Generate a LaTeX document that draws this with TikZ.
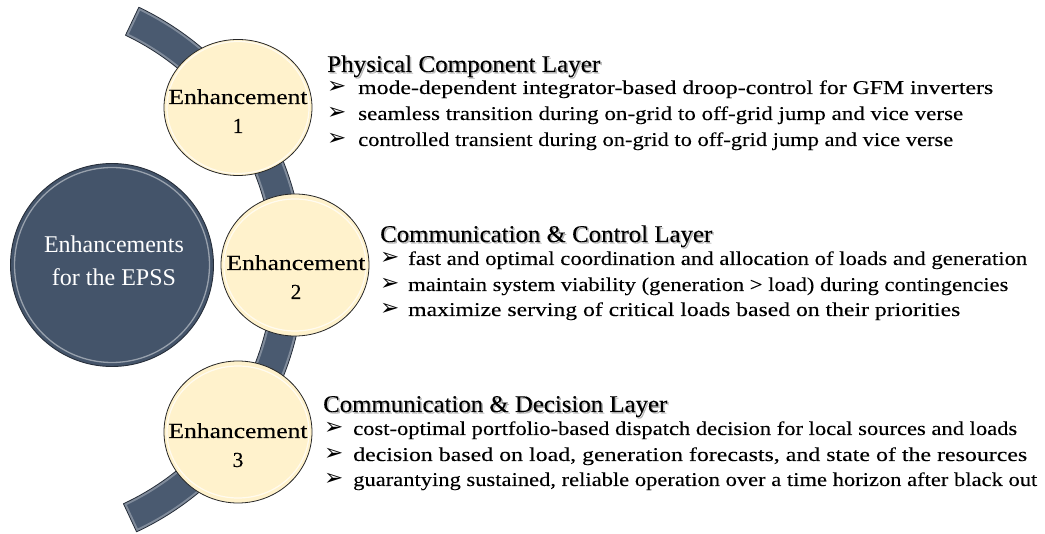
\documentclass[tikz,border=0pt]{standalone}
\usepackage{fontspec}
\setmainfont{Liberation Serif}
\newfontfamily\heavyserif[FakeBold=0.12]{Liberation Serif}
\newfontfamily\arrowfont{DejaVu Sans}
\usetikzlibrary{shapes.geometric,calc}
\definecolor{slate}{RGB}{68,84,106}
\definecolor{slatearc}{RGB}{74,90,112}
\definecolor{cream}{RGB}{255,242,204}
\definecolor{rimdark}{RGB}{38,46,58}
\newcommand\fitto[2]{\resizebox{#1pt}{\height}{#2}}
\tikzset{
  enh/.style={ellipse, draw=black!85, line width=0.8pt, fill=cream, inner sep=0pt},
  hub/.style={ellipse, draw=rimdark, line width=0.9pt, fill=slate, inner sep=0pt},
  ctext/.style={anchor=base, inner sep=0pt, font=\heavyserif\fontsize{21.5}{25}\selectfont},
  htext/.style={anchor=base, inner sep=0pt, text=white, font=\fontsize{24}{28}\selectfont},
  ttl/.style={anchor=base west, inner sep=0pt, font=\heavyserif\fontsize{24}{28}\selectfont},
  ttlshadow/.style={anchor=base west, inner sep=0pt, font=\heavyserif\fontsize{24}{28}\selectfont, text=black, opacity=0.25},
  bul/.style={anchor=base west, inner sep=0pt, font=\heavyserif\fontsize{19.5}{23}\selectfont},
  arrowbul/.style={anchor=base west, inner sep=0pt, font=\arrowfont\fontsize{23}{24}\selectfont},
}
\begin{document}
\begin{tikzpicture}[x=1pt,y=1pt]
\useasboundingbox (0,0) rectangle (1045,-534);
\fill[white] (0,0) rectangle (1045,-534);

% ---- arc band ----
\coordinate (C) at (14,-269);
\def\arcband{($(C)+(64.5:290pt)$) arc[start angle=64.5, end angle=-65, radius=290pt] -- ($(C)+(-65:259pt)$) arc[start angle=-65, end angle=64.5, radius=259pt] -- cycle}
\fill[slatearc] \arcband;
\begin{scope}
  \clip \arcband;
  \draw[white, opacity=0.3, line width=5pt] \arcband;
\end{scope}
\draw[rimdark, line width=0.8pt, line join=round] \arcband;

% ---- hub ----
\node[hub, minimum width=203pt, minimum height=203pt] (hub) at (112,-265) {};
\draw[white, opacity=0.45, line width=1.3pt] (hub.center) ellipse [x radius=97.5pt, y radius=97.5pt];
\node[htext] (hubA) at (114,-253) {Enhancements};
\node[htext] (hubB) at (114,-286) {for the EPSS};

% ---- enhancement circles ----
\node[enh, minimum width=148pt, minimum height=136pt] (e1) at (238,-107.5) {};
\node[enh, minimum width=148pt, minimum height=142pt] (e2) at (295,-265) {};
\node[enh, minimum width=148pt, minimum height=142pt] (e3) at (238,-432) {};
\foreach \n in {e1,e2,e3}{
  \draw[white, opacity=0.7, line width=1.2pt] (\n.center) ellipse [x radius=71pt, y radius=66pt];
}

\node[ctext] (e1a) at (238,-104) {\fitto{139}{Enhancement}};
\node[ctext] (e1b) at (238,-133) {1};
\node[ctext] (e2a) at (296,-270) {\fitto{139}{Enhancement}};
\node[ctext] (e2b) at (296,-299) {2};
\node[ctext] (e3a) at (238,-438) {\fitto{139}{Enhancement}};
\node[ctext] (e3b) at (238,-467) {3};

% ---- block 1 ----
\node[ttlshadow] (t1s) at (328.5,-73.5) {\fitto{273}{Physical Component Layer}};
\node[ttl] (t1) at (327,-72) {\fitto{273}{Physical Component Layer}};
\node[arrowbul] (a11) at (327,-94) {➢};
\node[arrowbul] (a12) at (327,-120) {➢};
\node[arrowbul] (a13) at (327,-146) {➢};
\node[bul] (b11) at (358,-94) {\fitto{635}{mode-dependent integrator-based droop-control for GFM inverters}};
\node[bul] (b12) at (358,-120) {\fitto{605}{seamless transition during on-grid to off-grid jump and vice verse}};
\node[bul] (b13) at (358,-146) {\fitto{595}{controlled transient during on-grid to off-grid jump and vice verse}};

% ---- block 2 ----
\node[ttlshadow] (t2s) at (381.5,-243.5) {\fitto{332}{Communication \& Control Layer}};
\node[ttl] (t2) at (380,-242) {\fitto{332}{Communication \& Control Layer}};
\node[arrowbul] (a21) at (380,-265) {➢};
\node[arrowbul] (a22) at (380,-291) {➢};
\node[arrowbul] (a23) at (380,-316) {➢};
\node[bul] (b21) at (408,-265) {\fitto{619}{fast and optimal coordination and allocation of loads and generation}};
\node[bul] (b22) at (408,-291) {\fitto{600}{maintain system viability (generation > load) during contingencies}};
\node[bul] (b23) at (408,-316) {\fitto{552}{maximize serving of critical loads based on their priorities}};

% ---- block 3 ----
\node[ttlshadow] (t3s) at (324.5,-413.5) {\fitto{344}{Communication \& Decision Layer}};
\node[ttl] (t3) at (323,-412) {\fitto{344}{Communication \& Decision Layer}};
\node[arrowbul] (a31) at (324,-435) {➢};
\node[arrowbul] (a32) at (324,-461) {➢};
\node[arrowbul] (a33) at (324,-486) {➢};
\node[bul] (b31) at (353,-435) {\fitto{664}{cost-optimal portfolio-based dispatch decision for local sources and loads}};
\node[bul] (b32) at (353,-461) {\fitto{674}{decision based on load, generation forecasts, and state of the resources}};
\node[bul] (b33) at (353,-486) {\fitto{684}{guarantying sustained, reliable operation over a time horizon after black out}};
\end{tikzpicture}
\end{document}
